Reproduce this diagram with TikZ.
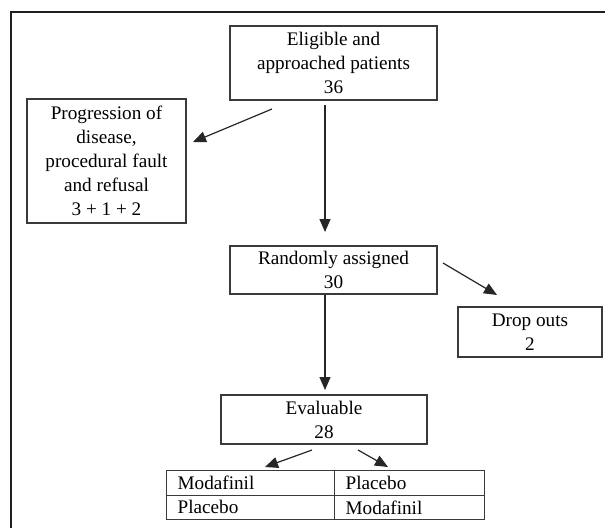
\documentclass[tikz,border=0pt]{standalone}
\usepackage{fontspec}
\setmainfont{Liberation Serif}
\usetikzlibrary{arrows.meta,calc}
\definecolor{boxline}{HTML}{3A3A3A}
\definecolor{frameline}{HTML}{1E1E1E}
\tikzset{
  flowbox/.style={draw=boxline, line width=1.2pt, rectangle, align=center,
    inner sep=0pt, font=\fontsize{19.2}{24}\selectfont},
  cellbox/.style={draw=boxline, line width=1.2pt, rectangle, anchor=north west,
    inner xsep=11pt, inner ysep=0pt, align=left, minimum height=24.5pt,
    font=\fontsize{19.2}{24}\selectfont},
  flowarrow/.style={draw=black!85, line width=1.2pt, -{Triangle[length=13pt,width=11pt]}},
  frame/.style={draw=frameline, line width=2.4pt}
}
\begin{document}
\begin{tikzpicture}[x=1pt,y=-1pt]
\useasboundingbox (0,0) rectangle (605,528);
% outer frame (top and left edges visible)
\coordinate (fbl) at (11,528);
\coordinate (ftl) at (11,12);
\coordinate (ftr) at (605,12);
\draw[frame] (fbl) -- (ftl) -- (ftr);

\node[flowbox, minimum width=207pt, minimum height=74pt] (elig) at (333.5,63)
  {Eligible and\\approached patients\\36};
\node[flowbox, minimum width=159pt, minimum height=124pt] (prog) at (106.5,161)
  {Progression of\\disease,\\procedural fault\\and refusal\\3 + 1 + 2};
\node[flowbox, minimum width=207pt, minimum height=48pt] (rand) at (333.5,270)
  {Randomly assigned\\30};
\node[flowbox, minimum width=144pt, minimum height=50pt] (drop) at (530,332)
  {Drop outs\\2};
\node[flowbox, minimum width=206pt, minimum height=49pt] (eval) at (324,419.5)
  {Evaluable\\28};

% table
\node[cellbox, text width=146pt] (c11) at (166,470) {Modafinil};
\node[cellbox, text width=128pt] (c12) at (334,470) {Placebo};
\node[cellbox, text width=146pt] (c21) at (166,494.5) {Placebo};
\node[cellbox, text width=128pt] (c22) at (334,494.5) {Modafinil};

% arrow ends
\coordinate (a1s) at (272,109);
\coordinate (a1e) at (193,142);
\coordinate (a2s) at (325,105);
\coordinate (a2e) at (325,232);
\coordinate (a3s) at (443,263);
\coordinate (a3e) at (497,295);
\coordinate (a4e) at (325,390);
\coordinate (a5s) at (312,450);
\coordinate (a5e) at (265,467);
\coordinate (a6s) at (358,450);
\coordinate (a6e) at (388,467);

\draw[flowarrow] (a1s) -- (a1e);
\draw[flowarrow] (a2s) -- (a2e);
\draw[flowarrow] (a3s) -- (a3e);
\draw[flowarrow] (rand.south -| a4e) -- (a4e);
\draw[flowarrow] (a5s) -- (a5e);
\draw[flowarrow] (a6s) -- (a6e);
\end{tikzpicture}
\end{document}
